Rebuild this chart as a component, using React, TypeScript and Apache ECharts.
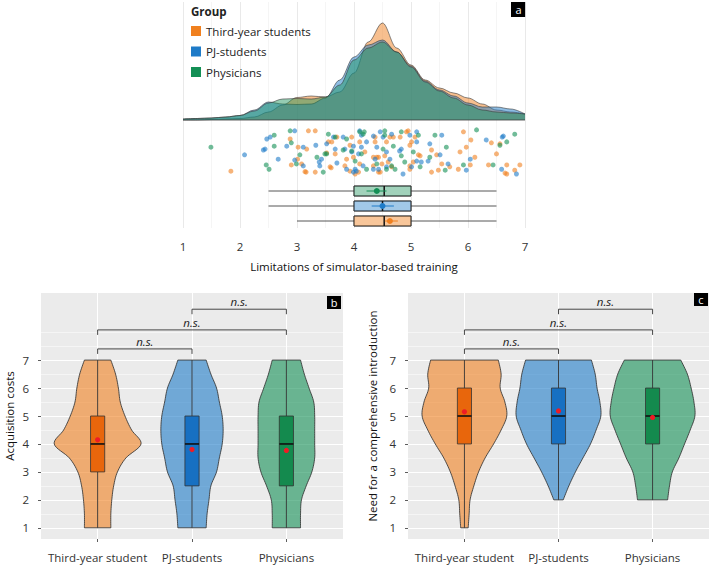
import React, { useEffect, useRef } from "react";
import * as echarts from "echarts";

const FONT = '"Open Sans", "Noto Sans", sans-serif';

// ---------- Panel a data ----------
const legendGroups = ["Third-year students", "PJ-students", "Physicians"];
const densityX = [1, 1.25, 1.5, 1.75, 2, 2.25, 2.5, 2.75, 3, 3.25, 3.5, 3.75, 4, 4.25, 4.5, 4.75, 5, 5.25, 5.5, 5.75, 6, 6.25, 6.5, 6.75, 7];
const densityThird = [0, 0, 0.005, 0.01, 0.015, 0.03, 0.08, 0.15, 0.225, 0.24, 0.23, 0.28, 0.47, 0.78, 0.97, 0.72, 0.55, 0.4, 0.32, 0.27, 0.22, 0.16, 0.1, 0.08, 0.06];
const densityPJ = [0.01, 0.015, 0.02, 0.03, 0.045, 0.1, 0.18, 0.16, 0.155, 0.16, 0.22, 0.4, 0.63, 0.75, 0.8, 0.68, 0.54, 0.39, 0.3, 0.24, 0.17, 0.13, 0.13, 0.11, 0.06];
const densityPhys = [0.01, 0.015, 0.02, 0.03, 0.045, 0.09, 0.17, 0.21, 0.215, 0.21, 0.23, 0.35, 0.6, 0.72, 0.78, 0.68, 0.53, 0.38, 0.29, 0.22, 0.15, 0.1, 0.08, 0.07, 0.06];

// [score, jitter (0 = top of band, 1 = bottom)]
const thirdPoints = [
  [1.84, 0.92], [2.88, 0.25], [3.2, 0.08], [3.32, 0.08], [3.02, 0.42], [3.17, 0.46], [3.01, 0.67], [2.9, 0.79], [3.08, 0.77], [3.16, 0.94],
  [3.32, 0.94], [3.58, 0.83], [3.67, 0.56], [3.7, 0.21], [3.61, 0.31], [3.93, 0.38], [3.87, 0.67], [4.08, 0.94], [4.37, 0.21], [4.4, 0.63],
  [4.49, 0.77], [4.43, 0.94], [4.92, 0.1], [4.98, 0.38], [5.13, 0.58], [5.04, 0.73], [4.98, 0.88], [5.36, 0.48], [5.45, 0.58], [5.54, 0.77],
  [5.36, 0.94], [5.48, 0.9], [5.68, 0.83], [5.92, 0.1], [6.05, 0.27], [5.97, 0.42], [5.86, 0.52], [6.12, 0.63], [6.04, 0.79], [5.83, 0.88],
  [6.41, 0.33], [6.56, 0.35], [6.5, 0.56], [6.36, 0.79], [6.68, 0.79], [6.68, 0.98], [6.82, 0.9], [6.91, 0.79], [3.55, 0.31], [3.6, 0.85],
  [3.84, 0.81], [3.96, 0.21], [3.99, 0.63], [3.93, 0.92], [4.02, 0.98], [4.1, 0.31], [4.19, 0.52], [4.1, 0.77], [4.37, 0.31], [4.34, 0.63],
  [4.43, 0.63], [4.34, 0.81], [4.46, 0.94], [4.57, 0.31], [4.54, 0.6], [4.6, 0.73], [4.66, 0.83], [4.63, 0.21], [4.69, 0.21], [4.81, 0.21],
  [4.95, 0.08], [5.07, 0.21], [5.01, 0.31], [4.98, 0.81], [5.16, 0.6], [6.65, 0.96], [3.52, 0.54], [3.14, 0.93],
];
const pjPoints = [
  [2.08, 0.58], [2.47, 0.25], [2.53, 0.21], [2.41, 0.48], [2.44, 0.46], [2.67, 0.67], [2.96, 0.08], [2.82, 0.4], [3.11, 0.42], [3.33, 0.38],
  [2.96, 0.69], [3.11, 0.81], [3.39, 0.73], [3.4, 0.81], [3.43, 0.67], [3.7, 0.75], [3.64, 0.21], [3.52, 0.35], [3.81, 0.21], [3.84, 0.46],
  [3.96, 0.52], [4.02, 0.88], [3.99, 0.94], [4.13, 0.17], [4.22, 0.31], [4.46, 0.1], [4.34, 0.88], [4.63, 0.67], [4.83, 0.46], [4.98, 0.17],
  [5.1, 0.31], [4.86, 0.98], [5.18, 0.73], [5.33, 0.35], [5.54, 0.17], [5.51, 0.58], [5.65, 0.77], [6.04, 0.67], [5.97, 0.9], [6.32, 0.27],
  [6.62, 0.19], [6.59, 0.88], [6.85, 0.98], [3.67, 0.46], [3.87, 0.88], [3.99, 0.4], [4.04, 0.92], [4.1, 0.08], [4.13, 0.42], [4.08, 0.56],
  [4.16, 0.81], [4.34, 0.19], [4.4, 0.42], [4.37, 0.67], [4.43, 0.88], [4.51, 0.21], [4.57, 0.52], [4.57, 0.83], [4.66, 0.15], [4.8, 0.5],
  [5.1, 0.1], [5.01, 0.83], [5.1, 0.71], [5.3, 0.71], [6.6, 0.21],
];
const physPoints = [
  [1.49, 0.42], [2.6, 0.17], [2.6, 0.4], [2.46, 0.79], [2.51, 0.88], [2.88, 0.08], [2.9, 0.33], [3.05, 0.58], [2.99, 0.77], [3.35, 0.63],
  [3.46, 0.94], [3.52, 0.56], [3.55, 0.15], [3.87, 0.25], [3.81, 0.48], [4.1, 0.1], [4.18, 0.1], [4.54, 0.17], [4.57, 0.88], [4.83, 0.1],
  [5.13, 0.17], [5.04, 0.52], [5.42, 0.17], [5.33, 0.63], [5.62, 0.42], [5.6, 0.9], [6.15, 0.06], [5.92, 0.79], [6.82, 0.15], [6.44, 0.79],
  [6.68, 0.31], [6.56, 0.38], [3.67, 0.21], [3.49, 0.56], [3.96, 0.5], [4.02, 0.71], [4.16, 0.15], [4.13, 0.56], [4.22, 0.88], [4.4, 0.77],
  [4.54, 0.08], [4.51, 0.46], [4.66, 0.81], [4.72, 0.88], [4.69, 0.4], [4.83, 0.6], [4.89, 0.73], [5.16, 0.83],
];

// [lower whisker, q1, median, q3, upper whisker]
const boxA = [[3, 4, 4.53, 5, 6.5], [2.5, 4, 4.5, 5, 6.5], [2.5, 4, 4.53, 5, 6.5]];
const meanA = [4.63, 4.5, 4.4];
const ciA = [[4.54, 4.77], [4.31, 4.7], [4.22, 4.57]];

// ---------- Panels b & c data ----------
const categories = ["Third-year student", "PJ-students", "Physicians"];
const violinLevels = [1, 1.5, 2, 2.5, 3, 3.5, 4, 4.5, 5, 5.5, 6, 6.5, 7];
// half widths (category units) at each level
const violinB = [
  [0.14, 0.14, 0.15, 0.17, 0.21, 0.3, 0.46, 0.36, 0.29, 0.24, 0.22, 0.19, 0.14],
  [0.15, 0.16, 0.18, 0.2, 0.26, 0.29, 0.32, 0.33, 0.32, 0.29, 0.26, 0.2, 0.15],
  [0.15, 0.15, 0.16, 0.21, 0.27, 0.3, 0.3, 0.3, 0.3, 0.29, 0.24, 0.19, 0.15],
];
const boxB = [[1, 3, 4, 5, 7], [1, 2.5, 4, 5, 7], [1, 2.5, 4, 5, 7]];
const meanB = [4.15, 3.8, 3.77];
const violinC = [
  [0.04, 0.05, 0.06, 0.1, 0.15, 0.22, 0.31, 0.39, 0.45, 0.43, 0.38, 0.39, 0.36],
  [null, null, 0.05, 0.11, 0.18, 0.26, 0.34, 0.4, 0.45, 0.44, 0.41, 0.39, 0.35],
  [null, null, 0.16, 0.18, 0.21, 0.28, 0.34, 0.4, 0.45, 0.44, 0.41, 0.37, 0.3],
];
const boxC = [[1, 4, 5, 6, 7], [2, 4, 5, 6, 7], [2, 4, 5, 6, 7]];
const meanC = [5.15, 5.18, 4.95];
// [from group, to group, height, label]
const brackets = [[1, 2, 7.4, "n.s."], [1, 3, 8.08, "n.s."], [2, 3, 8.82, "n.s."]];
const yTicks = [1, 2, 3, 4, 5, 6, 7];
const yMinor = [1.5, 2.5, 3.5, 4.5, 5.5, 6.5, 7.5, 8];

const baseColors = ["#F0801F", "#1E7BC8", "#138F55"];
const densityFill = ["rgba(240,128,31,0.5)", "rgba(30,123,200,0.5)", "rgba(19,143,85,0.45)"];
const lightBox = ["rgba(240,128,31,0.45)", "rgba(30,123,200,0.42)", "rgba(19,143,85,0.4)"];
const violinFill = ["rgba(240,128,31,0.6)", "rgba(30,123,200,0.6)", "rgba(19,143,85,0.6)"];
const darkBox = ["#E8660C", "#1770C2", "#148A4E"];
const TICK = "#333333";

function smoothPts(pts: number[][], seg = 8) {
  if (pts.length < 3) return pts;
  const out: number[][] = [];
  for (let i = 0; i < pts.length - 1; i++) {
    const p0 = pts[Math.max(0, i - 1)], p1 = pts[i], p2 = pts[i + 1], p3 = pts[Math.min(pts.length - 1, i + 2)];
    for (let t = 0; t < seg; t++) {
      const s = t / seg, s2 = s * s, s3 = s2 * s;
      const f = (k: number) =>
        0.5 * (2 * p1[k] + (-p0[k] + p2[k]) * s + (2 * p0[k] - 5 * p1[k] + 4 * p2[k] - p3[k]) * s2 + (-p0[k] + 3 * p1[k] - 3 * p2[k] + p3[k]) * s3);
      out.push([f(0), f(1)]);
    }
  }
  out.push(pts[pts.length - 1]);
  return out;
}

function violinSeries(axisIdx: number, profiles: (number | null)[][], boxes: number[][], means: number[]) {
  return {
    type: "custom",
    xAxisIndex: axisIdx,
    yAxisIndex: axisIdx === 1 ? 1 : 3,
    data: categories.map((_, i) => [i + 1, 4, i]),
    encode: { x: 0, y: 1 },
    clip: false,
    renderItem: (params: any, api: any) => {
      const g = api.value(2) as number;
      const cx = g + 1;
      const L: number[][] = [], R: number[][] = [];
      profiles[g].forEach((w, i) => {
        if (w == null) return;
        L.push(api.coord([cx - w, violinLevels[i]]));
        R.push(api.coord([cx + w, violinLevels[i]]));
      });
      const poly = smoothPts(L).concat(smoothPts(R).reverse());
      const [wlo, q1, med, q3, whi] = boxes[g];
      const pLo = api.coord([cx, wlo]), pHi = api.coord([cx, whi]);
      const b1 = api.coord([cx - 0.075, q3]), b2 = api.coord([cx + 0.075, q1]);
      const m1 = api.coord([cx - 0.075, med]), m2 = api.coord([cx + 0.075, med]);
      const mp = api.coord([cx, means[g]]);
      return {
        type: "group",
        children: [
          { type: "polygon", shape: { points: poly }, style: { fill: violinFill[g], stroke: "#333", lineWidth: 0.85 } },
          { type: "line", shape: { x1: pLo[0], y1: pLo[1], x2: pHi[0], y2: pHi[1] }, style: { stroke: "#333", lineWidth: 0.9 } },
          { type: "rect", shape: { x: b1[0], y: b1[1], width: b2[0] - b1[0], height: b2[1] - b1[1] }, style: { fill: darkBox[g], stroke: "#333", lineWidth: 0.8 } },
          { type: "line", shape: { x1: m1[0], y1: m1[1], x2: m2[0], y2: m2[1] }, style: { stroke: "#111", lineWidth: 1.6 } },
          { type: "circle", shape: { cx: mp[0], cy: mp[1], r: 2.6 }, style: { fill: "#EE1C25" } },
        ],
      };
    },
  };
}

function bracketSeries(axisIdx: number) {
  return {
    type: "custom",
    xAxisIndex: axisIdx,
    yAxisIndex: axisIdx === 1 ? 1 : 3,
    data: brackets.map((b) => [b[0], b[1], b[2], b[3]]),
    encode: { x: [0, 1], y: 2 },
    clip: false,
    renderItem: (params: any, api: any) => {
      const d = brackets[params.dataIndex];
      const a = api.coord([d[0], d[2]]);
      const b = api.coord([d[1], d[2]]);
      return {
        type: "group",
        children: [
          {
            type: "polyline",
            shape: { points: [[a[0], a[1] + 5], [a[0], a[1]], [b[0], b[1]], [b[0], b[1] + 5]] },
            style: { stroke: "#333", lineWidth: 0.9, fill: null },
          },
          {
            type: "text",
            x: (a[0] + b[0]) / 2,
            y: a[1] - 1.5,
            style: { text: String(d[3]), align: "center", verticalAlign: "bottom", font: `italic 11.5px ${FONT}`, fill: "#222" },
          },
        ],
      };
    },
  };
}

function panelLabel(x: number, y: number, w: number, h: number, t: string) {
  return {
    type: "group",
    children: [
      { type: "rect", shape: { x, y, width: w, height: h }, style: { fill: "#000" } },
      { type: "text", x: x + w / 2, y: y + h / 2, style: { text: t, fill: "#fff", font: `11px ${FONT}`, align: "center", verticalAlign: "middle" } },
    ],
  };
}

export default function App() {
  const ref = useRef<HTMLDivElement>(null);
  useEffect(() => {
    if (!ref.current) return;
    const chart = echarts.init(ref.current, null, { renderer: "svg" });
    const densities = [densityThird, densityPJ, densityPhys];
    const points = [thirdPoints, pjPoints, physPoints];

    const panelBCx = (idx: number) => ({
      gridIndex: idx,
      type: "value",
      min: 0.4,
      max: 3.6,
      axisLine: { show: false },
      axisTick: { show: true, customValues: [1, 2, 3], length: 3, lineStyle: { color: "#333", width: 0.8 } },
      axisLabel: {
        customValues: [1, 2, 3],
        formatter: (v: number) => categories[Math.round(v) - 1],
        color: TICK,
        fontSize: 11.5,
        fontFamily: FONT,
        margin: 12,
      },
      splitLine: { show: true, lineStyle: { color: "#ffffff", width: 1.1 } },
    });
    const panelBCy = (idx: number, name: string, gap: number) => [
      {
        gridIndex: idx,
        type: "value",
        min: 0.6,
        max: 9.4,
        name,
        nameLocation: "middle",
        nameGap: gap,
        nameTextStyle: { color: "#111", fontSize: 11.5, fontFamily: FONT },
        axisLine: { show: false },
        axisTick: { show: true, customValues: yTicks, length: 3, lineStyle: { color: "#333", width: 0.8 } },
        axisLabel: { customValues: yTicks, color: TICK, fontSize: 11.5, fontFamily: FONT, margin: 12 },
        splitLine: { show: true, lineStyle: { color: "#ffffff", width: 1.1 } },
        z: 1,
      },
      {
        gridIndex: idx,
        type: "value",
        min: 0.6,
        max: 9.4,
        axisLine: { show: false },
        axisTick: { show: false, customValues: yMinor },
        axisLabel: { show: false, customValues: yMinor },
        splitLine: { show: true, lineStyle: { color: "#ffffff", width: 0.5 } },
        z: 0,
      },
    ];

    const option: any = {
      animation: false,
      backgroundColor: "#ffffff",
      textStyle: { fontFamily: FONT },
      title: { text: "Group", left: 186, top: 0, textStyle: { fontSize: 11.5, fontWeight: "bold", color: "#222", fontFamily: FONT } },
      legend: {
        orient: "vertical",
        left: 186,
        top: 20,
        itemWidth: 10,
        itemHeight: 10,
        itemGap: 8.5,
        icon: "rect",
        textStyle: { fontSize: 11.5, color: "#222", fontFamily: FONT },
        data: legendGroups.map((n, i) => ({ name: n, itemStyle: { color: baseColors[i], borderWidth: 0 } })),
        selectedMode: false,
      },
      grid: [
        { left: 183, top: 2, width: 342, height: 226, outerBoundsMode: "none" },
        { left: 41, top: 293, width: 302, height: 246, show: true, backgroundColor: "#EBEBEB", borderWidth: 0, outerBoundsMode: "none" },
        { left: 408, top: 293, width: 301, height: 246, show: true, backgroundColor: "#EBEBEB", borderWidth: 0, outerBoundsMode: "none" },
      ],
      xAxis: [
        {
          gridIndex: 0,
          type: "value",
          min: 1,
          max: 7,
          interval: 1,
          name: "Limitations of simulator-based training",
          nameLocation: "middle",
          nameGap: 32,
          nameTextStyle: { color: "#111", fontSize: 11.5, fontFamily: FONT },
          axisLine: { show: false },
          axisTick: { show: false },
          axisLabel: { color: TICK, fontSize: 11.5, fontFamily: FONT, margin: 12 },
          splitLine: { show: true, lineStyle: { color: "#e6e6e6", width: 0.9 } },
          minorTick: { show: false, splitNumber: 2 },
          minorSplitLine: { show: true, lineStyle: { color: "#eeeeee", width: 0.6 } },
        },
        panelBCx(1),
        panelBCx(2),
      ],
      yAxis: [
        { gridIndex: 0, type: "value", min: -1.08, max: 1.18, show: false, splitLine: { show: false } },
        ...panelBCy(1, "Acquisition costs", 26),
        ...panelBCy(2, "Need for a comprehensive introduction", 30),
      ],
      graphic: [panelLabel(511, 2, 15, 15, "a"), panelLabel(327, 296, 14, 13, "b"), panelLabel(694, 293, 14, 13, "c")],
      series: [
        ...densities.map((d, i) => ({
          name: legendGroups[i],
          type: "line",
          xAxisIndex: 0,
          yAxisIndex: 0,
          data: densityX.map((x, k) => [x, d[k]]),
          smooth: 0.35,
          smoothMonotone: "x",
          symbol: "none",
          lineStyle: { color: "#3a3a3a", width: 0.6 },
          itemStyle: { color: baseColors[i] },
          areaStyle: { color: densityFill[i], opacity: 1 },
          z: 2 + i,
        })),
        {
          type: "line",
          xAxisIndex: 0,
          yAxisIndex: 0,
          data: [[1, 0], [7, 0]],
          symbol: "none",
          lineStyle: { color: "#3a3a3a", width: 0.8 },
          z: 6,
        },
        ...points.map((p, i) => ({
          type: "scatter",
          xAxisIndex: 0,
          yAxisIndex: 0,
          data: p.map((q) => [q[0], -(0.07 + 0.48 * q[1])]),
          symbolSize: 5,
          itemStyle: { color: baseColors[i], opacity: 0.6 },
          z: 7,
        })),
        {
          type: "custom",
          xAxisIndex: 0,
          yAxisIndex: 0,
          data: boxA.map((b, i) => [b[2], -0.86, i]),
          encode: { x: 0, y: 1 },
          clip: false,
          z: 8,
          renderItem: (params: any, api: any) => {
            const g = api.value(2) as number;
            const yr = -1.01 + 0.15 * g;
            const [wlo, q1, med, q3, whi] = boxA[g];
            const p = (x: number, y: number) => api.coord([x, y]);
            const w1 = p(wlo, yr), w2 = p(whi, yr);
            const b1 = p(q1, yr + 0.05), b2 = p(q3, yr - 0.05);
            const m1 = p(med, yr + 0.05), m2 = p(med, yr - 0.05);
            const c1 = p(ciA[g][0], yr), c2 = p(ciA[g][1], yr);
            const mp = p(meanA[g], yr);
            return {
              type: "group",
              children: [
                { type: "line", shape: { x1: w1[0], y1: w1[1], x2: w2[0], y2: w2[1] }, style: { stroke: "#444", lineWidth: 0.9 } },
                { type: "rect", shape: { x: b1[0], y: b1[1], width: b2[0] - b1[0], height: b2[1] - b1[1] }, style: { fill: "#fff", stroke: "#333", lineWidth: 0.8 } },
                { type: "rect", shape: { x: b1[0], y: b1[1], width: b2[0] - b1[0], height: b2[1] - b1[1] }, style: { fill: lightBox[g], stroke: "#333", lineWidth: 0.8 } },
                { type: "line", shape: { x1: m1[0], y1: m1[1], x2: m2[0], y2: m2[1] }, style: { stroke: "#111", lineWidth: 1.5 } },
                { type: "line", shape: { x1: c1[0], y1: c1[1], x2: c2[0], y2: c2[1] }, style: { stroke: baseColors[g], lineWidth: 1 } },
                { type: "circle", shape: { cx: mp[0], cy: mp[1], r: 3 }, style: { fill: baseColors[g] } },
              ],
            };
          },
        },
        violinSeries(1, violinB, boxB, meanB),
        bracketSeries(1),
        violinSeries(2, violinC, boxC, meanC),
        bracketSeries(2),
      ],
    };
    chart.setOption(option);
    return () => chart.dispose();
  }, []);
  return <div ref={ref} style={{ position: "fixed", left: 0, top: 0, width: 710, height: 566 }} />;
}
